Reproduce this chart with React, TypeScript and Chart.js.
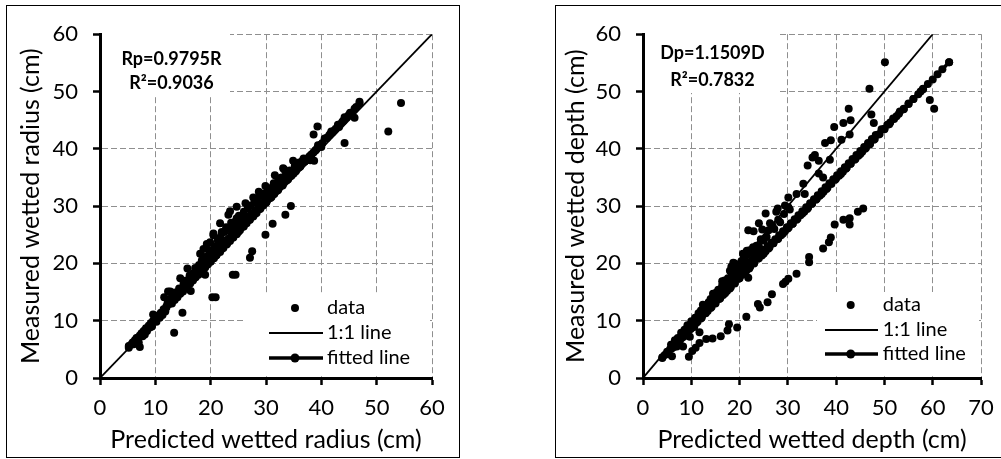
import React, { useEffect, useRef } from 'react';
import { Chart, registerables } from 'chart.js';
Chart.register(...registerables);

// ---------- DATA ----------
const radiusTicks = [0, 10, 20, 30, 40, 50, 60];
const radiusYTicks = [0, 10, 20, 30, 40, 50, 60];
const radiusData: number[][] = [
  [5.2,5.6],[5.6,5.8],[5.9,6.2],[6.1,5.9],[6.3,6.6],[6.6,6.4],[6.6,7.0],[6.8,7.0],[7.0,6.2],[7.2,7.4],[7.2,5.4],
  [7.5,7.8],[7.7,7.3],[7.9,8.2],[8.1,7.6],[8.3,8.7],[8.5,8.2],[8.8,9.1],[9.0,8.8],[9.2,9.6],[9.4,9.0],
  [9.6,10.0],[9.6,11.1],[10.0,10.3],[10.2,9.8],[10.5,10.9],[10.8,10.5],[11.0,11.4],[11.3,11.0],[11.5,12.0],
  [11.8,11.6],[12.0,12.5],[12.3,15.1],[11.6,14.1],[12.5,12.9],[12.7,13.3],[12.7,15.1],[13.0,13.0],[13.2,13.8],
  [13.4,7.9],[13.5,13.6],[13.7,14.3],[14.0,14.1],[14.2,14.8],[14.5,17.4],[14.5,14.7],[14.8,15.4],[14.9,11.4],
  [15.0,15.1],[15.3,16.0],[15.5,15.7],[15.8,19.1],[15.8,16.3],[16.0,16.6],[16.3,16.5],[16.4,15.2],[16.6,17.3],
  [16.8,17.0],[17.0,17.8],[17.3,17.6],[17.5,18.4],[17.8,18.0],[18.0,19.0],[18.1,21.7],[18.3,18.6],[18.6,19.5],
  [18.7,22.5],[18.8,21.1],[19.0,18.0],[19.0,19.3],[19.3,20.2],[19.3,23.4],[19.5,19.8],[19.9,23.7],[19.8,20.7],
  [20.0,20.3],[20.3,14.1],[20.3,21.3],[20.5,24.9],[20.5,25.2],[20.6,20.9],[20.9,14.1],[20.9,21.9],[21.1,21.5],
  [21.4,22.5],[21.7,27.0],[21.7,22.0],[22.0,25.5],[22.0,23.1],[22.3,22.7],[22.6,23.8],[22.9,23.3],[23.2,28.5],
  [23.2,24.3],[23.5,29.1],[23.5,23.9],[23.8,25.0],[24.0,18.0],[24.1,24.5],[24.4,25.6],[24.5,18.0],[24.7,29.9],
  [24.7,27.9],[24.7,25.1],[25.0,26.3],[25.3,25.8],[25.6,26.8],[25.9,26.4],[26.2,27.5],[26.3,30.5],[26.5,28.2],
  [26.5,27.0],[26.8,28.0],[27.1,21.0],[27.1,27.6],[27.5,22.1],[27.4,28.7],[27.7,31.5],[27.7,28.2],[28.0,31.0],
  [28.0,29.2],[28.3,28.8],[28.6,29.9],[28.7,32.5],[28.9,29.5],[29.2,30.4],[29.5,30.1],[29.9,33.5],[29.9,25.0],
  [29.8,31.0],[30.1,30.7],[30.5,31.6],[30.8,31.4],[31.2,26.9],[31.1,32.3],[31.5,32.1],[31.6,35.4],[31.8,33.0],
  [32.2,34.8],[32.2,32.8],[32.6,33.8],[33.0,33.6],[33.1,36.6],[33.3,36.4],[33.4,34.6],[33.5,28.5],[33.8,34.5],
  [34.2,35.5],[34.5,30.0],[34.6,35.3],[34.9,37.9],[35.0,36.2],[35.4,36.1],[35.8,37.1],[36.2,36.9],[36.6,37.9],
  [37.0,37.8],[37.4,38.1],[37.8,38.6],[38.2,39.0],[38.6,42.5],[38.7,37.9],[38.6,39.4],[39.0,39.8],[39.3,43.9],
  [39.4,40.6],[39.8,40.6],[40.2,41.0],[40.6,41.8],[41.0,41.9],[41.4,42.3],[41.8,43.0],[42.2,43.1],[42.6,43.5],
  [43.0,44.2],[43.4,44.3],[43.8,44.7],[44.2,41.0],[44.2,45.5],[44.6,45.5],[45.0,45.9],[45.5,46.2],[46.0,45.4],
  [46.3,47.3],[46.9,48.2],[52.1,43.0],[54.4,48.0],
  [12.2,13.0],[12.9,14.0],[13.6,14.9],[14.3,15.6],[15.1,16.4],[15.6,17.0],[16.2,17.9],[16.9,18.3],[17.2,19.2],
  [17.9,19.7],[18.4,20.5],[18.9,20.0],[19.4,21.2],[19.7,22.3],[20.1,22.0],[20.7,23.0],[21.0,22.8],[21.3,24.0],
  [21.8,24.6],[22.2,24.0],[22.5,25.5],[22.8,26.3],[23.3,26.0],[23.7,27.1],[24.2,26.6],[24.6,27.5],[25.1,28.3],
  [25.5,27.9],[26.0,29.0],[26.7,29.6],[27.2,30.1],[27.9,30.6],[28.4,31.3],[29.0,31.8],[29.6,32.2],[30.3,32.6],
  [31.0,33.2],[31.4,34.0],[32.0,33.7],[32.8,35.0],[33.6,35.5],[34.3,36.2],[35.2,37.0],[36.0,37.6],[36.8,38.3],
  [38.0,38.0],[40.0,40.3],[41.6,42.6],[43.2,43.8],[45.2,46.3]
];
const radiusFit: number[][] = [
  [5.2,5.3],[6,6.1],[7,7.1],[8,8.2],[9,9.2],[10,10.2],[11,11.2],[12,12.3],[13,13.3],[14,14.3],[15,15.3],
  [16,16.3],[17,17.4],[18,18.4],[19,19.4],[20,20.4],[21,21.4],[22,22.5],[23,23.5],[24,24.5],[25,25.5],
  [26,26.5],[27,27.6],[28,28.6],[29,29.6],[30,30.6],[31,31.6],[32,32.7],[33,33.7],[34,34.7],[35,35.7],
  [36,36.8],[37,37.8],[38,38.8],[39,39.8],[40,40.8],[41,41.9],[42,42.9],[43,43.9],[44,44.9],[45,45.9],
  [46,47.0],[46.9,47.9]
];
const radiusOneToOne: number[][] = [[0, 0], [60, 60]];

const depthTicks = [0, 10, 20, 30, 40, 50, 60, 70];
const depthYTicks = [0, 10, 20, 30, 40, 50, 60];
const depthData: number[][] = [
  [4.0,3.6],[4.5,4.0],[5.0,4.6],[5.3,4.2],[5.6,5.0],[6.0,3.8],[6.0,5.6],[6.4,5.4],[6.8,6.2],[7.0,5.5],[7.3,6.8],
  [7.6,6.4],[8.0,7.5],[8.3,5.5],[8.4,7.2],[8.8,8.2],[9.0,7.6],[9.4,8.9],[9.7,7.2],[9.8,8.5],[10.2,9.6],
  [10.4,9.2],[10.6,8.9],[11.0,10.3],[11.3,9.8],[11.7,8.0],[11.8,11.0],[12.2,10.6],[12.4,12.8],[12.6,11.5],
  [13.0,12.2],[13.4,11.7],[13.8,13.0],[14.2,12.4],[14.5,14.7],[14.6,13.5],[15.0,13.1],[15.4,14.3],[15.8,13.8],
  [16.2,15.1],[16.6,14.5],[16.9,17.0],[17.0,15.8],[17.4,15.2],[17.8,16.6],[18.0,18.7],[18.2,15.9],[18.6,17.3],
  [18.7,20.1],[19.0,16.6],[19.4,18.0],[19.7,19.2],[19.8,17.3],[20.2,18.6],[20.6,18.0],[20.7,21.7],[21.0,19.3],
  [21.4,18.7],[21.8,17.5],[21.8,25.8],[21.8,20.0],[22.1,22.3],[22.2,19.4],[22.6,20.6],[22.9,25.6],[23.0,20.1],
  [23.4,21.2],[23.5,23.1],[23.8,20.8],[24.0,27.0],[24.2,21.8],[24.6,21.4],[24.7,25.9],[25.0,22.4],[25.4,28.7],
  [25.4,22.1],[25.8,23.0],[26.2,22.8],[26.3,27.0],[26.6,23.6],[27.0,23.5],[27.4,24.2],[27.6,29.0],[27.8,24.2],
  [27.9,29.6],[28.0,27.6],[28.2,24.9],[28.6,24.9],[29.0,25.6],[29.4,30.1],[29.4,25.6],[29.8,26.3],[30.1,31.5],
  [30.1,29.8],[30.2,26.3],[30.6,27.0],[31.0,26.9],[31.4,27.7],[31.8,32.1],[31.8,27.6],[32.2,28.4],[32.6,28.4],
  [33.0,29.1],[33.2,33.9],[33.4,29.0],[33.5,32.1],[33.8,29.8],[34.1,37.1],[34.2,29.7],[34.6,30.5],[35.0,30.4],
  [35.1,38.5],[35.4,31.2],[35.6,38.9],[35.8,31.1],[36.2,31.9],[36.4,35.7],[36.4,37.9],[36.6,31.8],[37.0,32.6],
  [37.3,35.0],[37.4,32.5],[37.7,41.0],[37.8,33.3],[38.2,33.2],[38.6,34.0],[38.7,38.1],[38.9,41.5],[39.0,33.9],
  [39.4,34.7],[39.6,43.8],[39.8,34.6],[40.2,35.4],[40.6,35.3],[41.0,36.1],[41.1,41.6],[41.4,36.0],[41.5,44.5],
  [41.8,36.8],[42.2,36.7],[42.6,37.5],[42.6,47.0],[42.8,42.5],[43.0,45.0],[43.0,37.4],[43.4,38.2],[43.8,38.1],
  [44.2,38.9],[44.6,38.8],[45.0,39.6],[45.4,39.5],[45.8,40.3],[46.2,40.2],[46.6,41.0],[46.9,50.5],[47.0,40.9],
  [47.3,46.0],[47.4,41.7],[47.8,44.5],[47.8,41.6],[48.2,42.4],[48.8,42.5],[49.4,43.4],[50.1,55.1],[50.0,43.5],
  [50.6,44.2],[51.2,44.6],[51.8,45.3],[52.5,45.7],[53.2,46.5],[54.0,47.0],[55.0,47.9],[56.0,48.7],[57.5,50.0],
  [58.0,50.5],[59.4,48.5],[60.3,47.0],[63.4,55.1],
  [9.5,3.7],[10.2,4.7],[10.9,5.3],[11.7,6.1],[13.1,6.8],[14.4,6.9],[16.1,7.3],[17.5,8.3],[17.8,9.4],[19.5,8.8],
  [21.4,10.7],[23.8,12.9],[24.2,12.3],[25.8,13.2],[26.7,14.6],[29.0,16.4],[29.5,16.8],[30.1,17.3],[31.8,18.2],
  [34.4,20.2],[34.4,21.1],[37.3,22.6],[38.5,23.7],[38.9,24.5],[39.7,26.8],[41.5,27.6],[42.8,27.9],[42.8,26.8],
  [44.5,29.0],[45.6,29.6],
  [5.8,5.8],[6.6,6.6],[7.2,7.0],[7.9,7.9],[8.6,8.4],[9.2,9.2],[10.0,9.9],[10.8,10.5],[11.5,11.3],[12.0,11.8],
  [12.8,12.4],[13.6,13.2],[14.0,13.8],[14.8,14.6],[15.2,14.9],[15.6,15.4],[16.4,16.2],[16.4,16.9],[17.2,16.8],
  [17.6,17.4],[18.4,18.0],[18.9,18.9],[19.2,19.6],[19.9,19.4],[20.4,20.4],[20.9,21.0],[21.2,20.5],[21.6,21.6],
  [22.4,21.8],[22.8,22.8],[23.2,22.4],[24.0,23.0],[24.4,24.2],[25.0,24.0],[25.6,24.6],[26.0,25.8],[26.8,26.6],
  [27.2,26.0],[28.4,27.2],[29.2,28.6],[30.4,29.4],[18.3,19.4],[19.0,20.0],[20.1,19.0],[20.8,20.1],[21.5,22.2]
];
const depthFit: number[][] = [
  [4,3.5],[5,4.3],[6,5.2],[7,6.1],[8,7.0],[9,7.8],[10,8.7],[11,9.6],[12,10.4],[13,11.3],[14,12.2],[15,13.0],
  [16,13.9],[17,14.8],[18,15.6],[19,16.5],[20,17.4],[21,18.2],[22,19.1],[23,20.0],[24,20.9],[25,21.7],
  [26,22.6],[27,23.5],[28,24.3],[29,25.2],[30,26.1],[31,26.9],[32,27.8],[33,28.7],[34,29.5],[35,30.4],
  [36,31.3],[37,32.1],[38,33.0],[39,33.9],[40,34.8],[41,35.6],[42,36.5],[43,37.4],[44,38.2],[45,39.1],
  [46,40.0],[47,40.8],[48,41.7],[49,42.6],[50,43.4],[51,44.3],[52,45.2],[53,46.1],[54,46.9],[55,47.8],
  [56,48.7],[57,49.5],[58,50.4],[59,51.3],[60,52.1],[61,53.0],[62,53.9],[63.4,55.1]
];
const depthOneToOne: number[][] = [[0, 0], [60, 60]];

const legendLabels = ['data', '1:1 line', 'fitted line'];

const FONT = 'Lato, "Open Sans", sans-serif';

type PanelSpec = {
  data: number[][];
  fit: number[][];
  one: number[][];
  xTicks: number[];
  yTicks: number[];
  xTitle: string;
  yTitle: string;
  eq: string;
  r2: string;
  width: number;
  height: number;
  pad: { top: number; right: number };
  yWidth: number;
  xHeight: number;
  yTitlePad: number;
  eqBox: number[];
  eqCx: number;
  eqY: number[];
  legBox: number[];
  legDotX: number;
  legLine: number[];
  legTextX: number;
  legY: number[];
};

function toPts(a: number[][]) {
  return a.map((p) => ({ x: p[0], y: p[1] }));
}

function makeChart(canvas: HTMLCanvasElement, s: PanelSpec) {
  const overlay = {
    id: 'overlay',
    beforeDatasetsDraw(chart: any) {
      const ctx = chart.ctx as CanvasRenderingContext2D;
      ctx.save();
      ctx.fillStyle = '#fff';
      ctx.fillRect(s.eqBox[0], s.eqBox[1], s.eqBox[2] - s.eqBox[0], s.eqBox[3] - s.eqBox[1]);
      ctx.fillStyle = '#000';
      ctx.font = 'bold 18px ' + FONT;
      ctx.textAlign = 'center';
      ctx.textBaseline = 'middle';
      ctx.fillText(s.eq, s.eqCx, s.eqY[0]);
      ctx.fillText(s.r2, s.eqCx, s.eqY[1]);
      ctx.fillStyle = '#fff';
      ctx.fillRect(s.legBox[0], s.legBox[1], s.legBox[2] - s.legBox[0], s.legBox[3] - s.legBox[1]);
      ctx.fillStyle = '#000';
      ctx.strokeStyle = '#000';
      ctx.beginPath();
      ctx.arc(s.legDotX, s.legY[0], 4, 0, Math.PI * 2);
      ctx.fill();
      ctx.lineWidth = 1.8;
      ctx.beginPath();
      ctx.moveTo(s.legLine[0], s.legY[1]);
      ctx.lineTo(s.legLine[1], s.legY[1]);
      ctx.stroke();
      ctx.lineWidth = 3.5;
      ctx.beginPath();
      ctx.moveTo(s.legLine[0], s.legY[2]);
      ctx.lineTo(s.legLine[1], s.legY[2]);
      ctx.stroke();
      ctx.beginPath();
      ctx.arc(s.legDotX, s.legY[2], 4.5, 0, Math.PI * 2);
      ctx.fill();
      ctx.font = '20px ' + FONT;
      ctx.textAlign = 'left';
      ctx.textBaseline = 'middle';
      for (let i = 0; i < legendLabels.length; i++) {
        ctx.fillText(legendLabels[i], s.legTextX, s.legY[i]);
      }
      ctx.restore();
    },
  };

  const axisCommon = (ticksArr: number[], title: string, isY: boolean) => ({
    type: 'linear' as const,
    min: ticksArr[0],
    max: ticksArr[ticksArr.length - 1],
    afterBuildTicks: (scale: any) => {
      scale.ticks = ticksArr.map((v) => ({ value: v }));
    },
    afterFit: (scale: any) => {
      if (isY) scale.width = s.yWidth;
      else scale.height = s.xHeight;
    },
    grid: {
      color: '#8f8f8f',
      lineWidth: 1,
      drawTicks: true,
      tickLength: 7,
      tickColor: '#000',
      tickWidth: 2.5,
    },
    border: { display: true, color: '#000', width: 3, dash: [6, 3] },
    ticks: {
      color: '#000',
      font: { family: FONT, size: 22 },
      padding: isY ? 15 : 10,
      maxRotation: 0,
      autoSkip: false,
    },
    title: {
      display: true,
      text: title,
      color: '#000',
      font: { family: FONT, size: 25 },
      padding: isY ? { top: s.yTitlePad, bottom: 0 } : { top: 0, bottom: 2 },
    },
  });

  return new Chart(canvas, {
    type: 'scatter',
    data: {
      datasets: [
        {
          label: 'data',
          data: toPts(s.data),
          backgroundColor: '#000',
          borderColor: '#000',
          pointRadius: 4,
          pointBorderWidth: 0,
          showLine: false,
        },
        {
          label: '1:1 line',
          data: toPts(s.one),
          borderColor: '#000',
          backgroundColor: '#000',
          borderWidth: 1.8,
          pointRadius: 0,
          showLine: true,
        },
        {
          label: 'fitted line',
          data: toPts(s.fit),
          borderColor: '#000',
          backgroundColor: '#000',
          borderWidth: 3.5,
          pointRadius: 4,
          pointBorderWidth: 0,
          showLine: true,
        },
      ],
    },
    options: {
      animation: false,
      responsive: false,
      devicePixelRatio: 1,
      layout: { padding: { left: 0, top: s.pad.top, right: s.pad.right, bottom: 0 } },
      plugins: { legend: { display: false }, tooltip: { enabled: false } },
      scales: {
        x: axisCommon(s.xTicks, s.xTitle, false),
        y: axisCommon(s.yTicks, s.yTitle, true),
      },
    },
    plugins: [overlay],
  } as any);
}

const leftSpec: PanelSpec = {
  data: radiusData,
  fit: radiusFit,
  one: radiusOneToOne,
  xTicks: radiusTicks,
  yTicks: radiusYTicks,
  xTitle: 'Predicted wetted radius (cm)',
  yTitle: 'Measured wetted radius (cm)',
  eq: 'Rp=0.9795R',
  r2: 'R\u00B2=0.9036',
  width: 452,
  height: 451,
  pad: { top: 22, right: 27 },
  yWidth: 93,
  xHeight: 79,
  yTitlePad: 9,
  eqBox: [95, 24, 223, 91],
  eqCx: 164.5,
  eqY: [53, 77],
  legBox: [238, 289, 423, 369],
  legDotX: 288,
  legLine: [262, 316],
  legTextX: 320,
  legY: [302, 327, 352],
};

const rightSpec: PanelSpec = {
  data: depthData,
  fit: depthFit,
  one: depthOneToOne,
  xTicks: depthTicks,
  yTicks: depthYTicks,
  xTitle: 'Predicted wetted depth (cm)',
  yTitle: 'Measured wetted depth (cm)',
  eq: 'Dp=1.1509D',
  r2: 'R\u00B2=0.7832',
  width: 458,
  height: 451,
  pad: { top: 14, right: 33 },
  yWidth: 87,
  xHeight: 79,
  yTitlePad: 5,
  eqBox: [89, 16, 221, 87],
  eqCx: 156.5,
  eqY: [47, 74],
  legBox: [261, 286, 423, 369],
  legDotX: 294.7,
  legLine: [269, 322],
  legTextX: 326.7,
  legY: [299, 324, 348],
};

function Panel({ spec, left }: { spec: PanelSpec; left: number }) {
  const ref = useRef<HTMLCanvasElement | null>(null);
  useEffect(() => {
    if (!ref.current) return;
    const c = makeChart(ref.current, spec);
    return () => c.destroy();
  }, [spec]);
  return (
    <div
      style={{
        position: 'absolute',
        left,
        top: 5,
        width: spec.width + 2,
        height: spec.height + 2,
        border: '1px solid #000',
        boxSizing: 'border-box',
        background: '#fff',
      }}
    >
      <canvas
        ref={ref}
        width={spec.width}
        height={spec.height}
        style={{ display: 'block', width: spec.width, height: spec.height }}
      />
    </div>
  );
}

export default function App() {
  return (
    <div
      style={{
        position: 'fixed',
        left: 0,
        top: 0,
        width: 1001,
        height: 459,
        overflow: 'hidden',
        background: '#fff',
      }}
    >
      <Panel spec={leftSpec} left={6} />
      <Panel spec={rightSpec} left={555} />
    </div>
  );
}
